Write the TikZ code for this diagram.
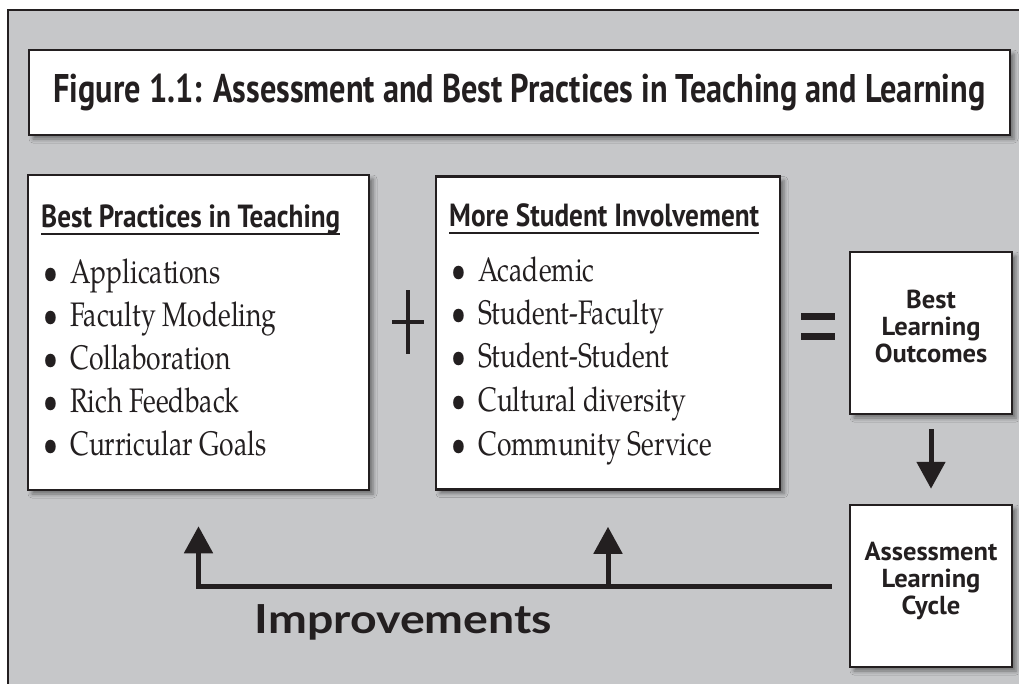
\documentclass[tikz,border=0pt]{standalone}
\usepackage{fontspec}
\usepackage{graphicx}
\usetikzlibrary{arrows.meta,shadows.blur,calc}
\newfontfamily\bodyfont{texgyrepagella-regular.otf}[FakeStretch=0.78]
\newfontfamily\hdfont{PT Sans}
\newfontfamily\rbfont{PT Sans}[FakeStretch=1.02]
\newfontfamily\impfont{Lato}
\definecolor{bg}{RGB}{198,199,201}
\definecolor{ink}{RGB}{35,31,32}
\newcommand\ulhd[1]{\setbox0=\hbox{#1}\rlap{\rule[-8pt]{\wd0}{2pt}}\box0}
\newcommand\itm[1]{\makebox[27pt][l]{\textbullet}#1}
\tikzset{
  box/.style={draw=ink, line width=2.5pt, fill=white, inner sep=0pt,
    blur shadow={shadow xshift=4pt, shadow yshift=-4pt, shadow blur radius=4pt, shadow opacity=45}},
  body/.style={font=\bodyfont\fontsize{34}{34}\selectfont, text=ink, anchor=base west, inner sep=0pt},
  hd/.style={text=ink, anchor=base west, inner sep=0pt},
  rb/.style={font=\rbfont\bfseries\fontsize{26}{27}\selectfont, align=center, anchor=north, inner sep=0pt, text=ink},
  arr/.style={draw=ink, line width=5pt, -{Triangle[width=28pt,length=27pt]}},
}
\begin{document}
\begin{tikzpicture}[x=1pt,y=-1pt]
\useasboundingbox (0,0) rectangle (1019,683);
\fill[white] (0,0) rectangle (1019,683);
\fill[bg] (8,10) rectangle (1040,700);
\draw[ink, line width=2pt] (8,10) rectangle (1040,700);
% title
\node[box, minimum width=981pt, minimum height=85pt, text=ink] (title) at (519.5,92.5)
  {\resizebox{932pt}{\height}{\hdfont\bfseries\fontsize{40}{40}\selectfont Figure 1.1: Assessment and Best Practices in Teaching and Learning}};
% main boxes
\node[box, minimum width=341pt, minimum height=315pt] (bpt) at (198.5,332.5) {};
\node[box, minimum width=344pt, minimum height=313pt] (msi) at (608,333) {};
\node[box, minimum width=162pt, minimum height=162pt] (blo) at (931,333) {};
\node[box, minimum width=162pt, minimum height=162pt] (alc) at (931,586) {};
% headers
\node[hd] (bpth) at (41,227) {\resizebox{299pt}{\height}{\hdfont\bfseries\fontsize{32}{32}\selectfont\ulhd{Best Practices in Teaching}}};
\node[hd] (msih) at (449,226) {\resizebox{310pt}{\height}{\hdfont\bfseries\fontsize{32}{32}\selectfont\ulhd{More Student Involvement}}};
% items
\node[body] (b1) at (43,283) {\itm{Applications}};
\node[body] (b2) at (43,326) {\itm{Faculty Modeling}};
\node[body] (b3) at (43,369) {\itm{Collaboration}};
\node[body] (b4) at (43,412) {\itm{Rich Feedback}};
\node[body] (b5) at (43,455) {\itm{Curricular Goals}};
\node[body] (m1) at (451,281) {\itm{Academic}};
\node[body] (m2) at (451,324) {\itm{Student-Faculty}};
\node[body] (m3) at (451,367) {\itm{Student-Student}};
\node[body] (m4) at (451,411) {\itm{Cultural diversity}};
\node[body] (m5) at (451,455) {\itm{Community Service}};
% right boxes text
\node[rb] (blot) at (931,290) {Best\\Learning\\Outcomes};
\node[rb] (alct) at (931,542) {Assessment\\Learning\\Cycle};
% plus and equals
\coordinate (plus) at (408,322);
\draw[ink, line width=4pt] ($(plus)+(-16,0)$) -- ($(plus)+(16,0)$) ($(plus)+(0,-32)$) -- ($(plus)+(0,32)$);
\coordinate (eq) at (818,326.5);
\draw[ink, line width=7pt] ($(eq)+(-17,-10)$) -- ($(eq)+(17,-10)$) ($(eq)+(-17,10)$) -- ($(eq)+(17,10)$);
% arrows
\draw[arr, shorten <=14pt, shorten >=15pt] (blo.south) -- (alc.north);
\draw[arr, shorten <=17pt, shorten >=35pt] (alc.west) -| (bpt.south);
\draw[arr, shorten >=36pt] (msi.south |- alc.west) -- (msi.south);
% improvements
\node[anchor=base, inner sep=0pt, text=ink] (imp) at (403.5,633) {\resizebox{297pt}{\height}{\impfont\bfseries\fontsize{40}{40}\selectfont Improvements}};
\end{tikzpicture}
\end{document}
